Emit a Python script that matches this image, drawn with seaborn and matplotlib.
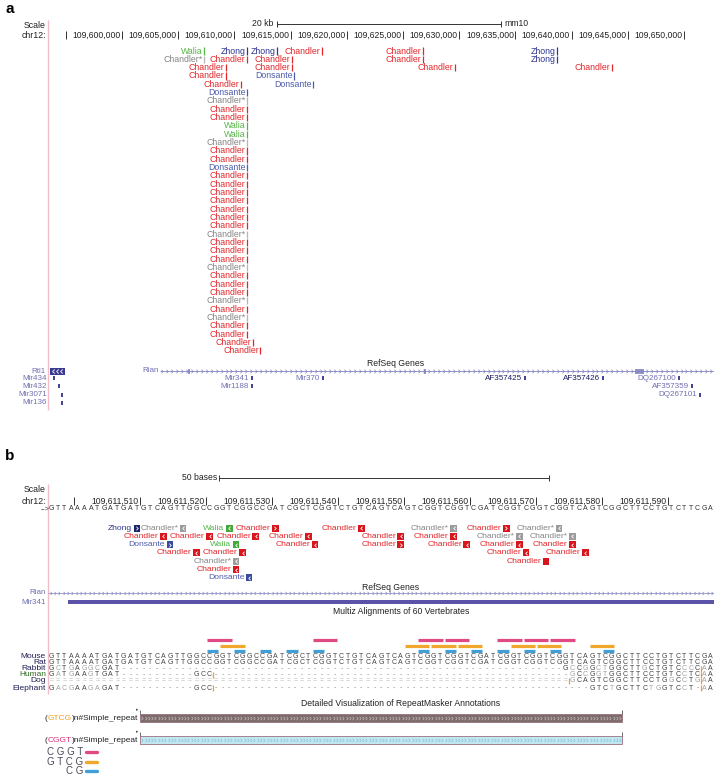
import numpy as np
import pandas as pd
import matplotlib
matplotlib.use("Agg")
import matplotlib.pyplot as plt
import seaborn as sns
from matplotlib.path import Path
from matplotlib.patches import Rectangle
from matplotlib.transforms import offset_copy

sns.set_theme(style="white")
plt.rcParams['font.family'] = ['Liberation Sans', 'DejaVu Sans']

# ------------------------------------------------------------------ data: panel a
A_LEFT, A_RIGHT = 109_593_416, 109_652_669
a_tick_pos = [109595000, 109600000, 109605000, 109610000, 109615000, 109620000,
              109625000, 109630000, 109635000, 109640000, 109645000, 109650000]
a_tick_lab = ["", "109,600,000", "109,605,000", "109,610,000", "109,615,000", "109,620,000",
              "109,625,000", "109,630,000", "109,635,000", "109,640,000", "109,645,000", "109,650,000"]
a_scale = (109613750, 109633750)  # 20 kb

a_feat_name = (["Walia", "Zhong", "Zhong", "Chandler", "Chandler", "Zhong"] +
               ["Chandler*", "Chandler", "Chandler", "Chandler", "Zhong"] +
               ["Chandler", "Chandler", "Chandler", "Chandler"] +
               ["Chandler", "Donsante"] +
               ["Chandler", "Donsante"] +
               ["Donsante", "Chandler*", "Chandler", "Chandler", "Walia", "Walia", "Chandler*",
                "Chandler", "Chandler", "Donsante"] +
               ["Chandler"] * 7 + ["Chandler*"] + ["Chandler"] * 3 + ["Chandler*"] +
               ["Chandler"] * 3 + ["Chandler*", "Chandler", "Chandler*", "Chandler", "Chandler",
                                   "Chandler", "Chandler"])
a_feat_pos = ([109607300, 109611100, 109613800, 109617800, 109626800, 109638700] +
              [109607300, 109611100, 109615100, 109626800, 109638700] +
              [109609250, 109615100, 109629600, 109643600] +
              [109609250, 109615300] +
              [109610600, 109617000] +
              [109611100] * 30 + [109611650, 109612300])
a_feat_row = ([0] * 6 + [1] * 5 + [2] * 4 + [3] * 2 + [4] * 2 + list(range(5, 37)))

a_gene_name = ["Mir434", "Mir432", "Mir3071", "Mir136", "Mir341", "Mir1188", "Mir370",
               "AF357425", "AF357426", "DQ267100", "AF357359", "DQ267101"]
a_gene_pos = [109593950, 109594400, 109594700, 109594700, 109611530, 109611530, 109617880,
              109635850, 109642790, 109649550, 109650710, 109651420]
a_gene_row = [0, 1, 2, 3, 0, 1, 0, 0, 0, 0, 1, 2]
rtl1 = (109593550, 109594900)
rian_a = (109603380, 109660000)
rian_exons_a = [(109605900, 109606050), (109626900, 109627050), (109645640, 109646440)]

# ------------------------------------------------------------------ data: panel b
B_LEFT, B_RIGHT = 109611495.5, 109611596.5
b_tick_pos = [109611500, 109611510, 109611520, 109611530, 109611540, 109611550,
              109611560, 109611570, 109611580, 109611590]
b_tick_lab = ["", "109,611,510", "109,611,520", "109,611,530", "109,611,540", "109,611,550",
              "109,611,560", "109,611,570", "109,611,580", "109,611,590"]
b_scale = (109611521.5, 109611571.5)  # 50 bases
seq_start = 109611496

b_feat_name = ["Zhong", "Chandler*", "Walia", "Chandler", "Chandler", "Chandler*", "Chandler", "Chandler*",
               "Chandler", "Chandler", "Chandler", "Chandler", "Chandler", "Chandler", "Chandler*", "Chandler*",
               "Donsante", "Walia", "Chandler", "Chandler", "Chandler", "Chandler", "Chandler",
               "Chandler", "Chandler", "Chandler", "Chandler",
               "Chandler*", "Chandler",
               "Chandler",
               "Donsante"]
b_feat_pos = [109611509, 109611516, 109611523, 109611530, 109611543, 109611557, 109611565, 109611573,
              109611513, 109611520, 109611527, 109611535, 109611549, 109611557, 109611567, 109611575,
              109611514, 109611524, 109611536, 109611549, 109611559, 109611567, 109611575,
              109611518, 109611525, 109611568, 109611577,
              109611524, 109611571,
              109611524,
              109611526]
b_feat_row = [0] * 8 + [1] * 8 + [2] * 7 + [3] * 4 + [4] * 2 + [5] + [6]
b_feat_strand = [">", "<", "<", ">", "<", "<", ">", "<",
                 "<", "<", "<", "<", "<", "<", "<", "<",
                 ">", "<", "<", ">", "<", "<", "<",
                 "<", "<", "<", "<",
                 "<", "",
                 "<",
                 "<"]
mir341_b = (109611499, 109611597)

species = ["Mouse", "Rat", "Rabbit", "Human", "Dog", "Elephant"]
alignment = [
    "GTTAAAATGATGATGTCAGTTGGCCGGTCGGCCGATCGCTCGGTCTGTCAGTCAGTCGGTCGGTCGATCGGTCGGTCGGTCAGTCGGCTTCCTGTCTTCGA",
    "GTTAAAATGATGATGTCAGTTGGCCGGTCGGCCGATCGCTCGGTCTGTCAGTCAGTCGGTCGGTCGATCGGTCGGTCGGTCAGTCGGCTTCCTGTCTTCGA",
    "GCTGAGGCGAT" + "-" * 67 + "GCCGGCTGGCTTGCTGTCCCCAA",
    "GATGAAGTGAT" + "-" * 11 + "GCC" + "-" * 54 + "GCCGGTGGCTTCCTGTCCTCAA",
    "=" * 79 + "GCAGTCGGCTTCCTGGCCTGAA",
    "GACGAAGAGAT" + "-" * 11 + "GCC" + "-" * 57 + "GTCTGCTTCTGGTCCT-AA",
]
insert_species = ["Rabbit", "Human", "Human", "Dog", "Dog", "Elephant", "Elephant"]
insert_pos = [109611594.5, 109611520.5, 109611594.5, 109611574.5, 109611594.5, 109611520.5, 109611594.5]

cggt_starts = [109611520, 109611536, 109611552, 109611556, 109611564, 109611568, 109611572]
gtcg_starts = [109611522, 109611550, 109611554, 109611558, 109611566, 109611570, 109611578]
cg_starts = [109611520, 109611524, 109611528, 109611532, 109611536, 109611552, 109611556,
             109611560, 109611564, 109611568, 109611572, 109611580]
repeat_span = (109611510, 109611582)
legend_motifs = ["C G G T", "G T C G", "C G"]

# ------------------------------------------------------------------ styles
W, H = 714, 775
fig = plt.figure(figsize=(W / 100, H / 100), dpi=100)
renderer = fig.canvas.get_renderer()

txt_col = {"Chandler": "#e3262a", "Chandler*": "#858585", "Walia": "#56b447",
           "Zhong": "#2e368f", "Donsante": "#4d5cab"}
bar_col = {"Chandler": "#e3262a", "Chandler*": "#b5b5b5", "Walia": "#56b447",
           "Zhong": "#2e368f", "Donsante": "#4d5cab"}
box_col = {"Chandler": "#d8161c", "Chandler*": "#9c9c9c", "Walia": "#45a83a",
           "Zhong": "#1c2468", "Donsante": "#3a4c9e"}
gene_lab_col = "#6f6fb2"
gene_col = "#3f3f95"
PINK = "#f4bcc6"
TXT = "#222222"

chev_r = Path([(-0.6, 1.0), (0.4, 0.0), (-0.6, -1.0)], [Path.MOVETO, Path.LINETO, Path.LINETO])
chev_l = Path([(0.6, 1.0), (-0.4, 0.0), (0.6, -1.0)], [Path.MOVETO, Path.LINETO, Path.LINETO])


def ftext(x, y, s, **kw):
    kw.setdefault("fontsize", 6)
    kw.setdefault("color", TXT)
    kw.setdefault("va", "center")
    return fig.text(x / W, 1 - y / H, s, **kw)


def seg_text_right(x, y, segments, fs):
    for s, c in reversed(segments):
        t = ftext(x, y, s, ha="right", fontsize=fs, color=c)
        x -= t.get_window_extent(renderer).width


def make_ax(xl, xr):
    ax = fig.add_axes([48 / W, 0, 666 / W, 1])
    ax.set_xlim(xl, xr)
    ax.set_ylim(H, 0)
    ax.axis("off")
    ax.patch.set_alpha(0)
    return ax


# ================================================================== panel a
ax_a = make_ax(A_LEFT, A_RIGHT)
ftext(5, 9, "a", fontsize=11, fontweight="bold", color="black")
ftext(46, 25, "Scale", ha="right", fontsize=6.3)
ftext(46, 35, "chr12:", ha="right", fontsize=6.3)
ax_a.vlines(A_LEFT, 20, 410, color=PINK, lw=1.0, clip_on=False)

# scale bar
ax_a.hlines(24, *a_scale, color="#333333", lw=0.7)
ax_a.vlines(a_scale, 21, 27, color="#333333", lw=0.7)
ax_a.annotate("20 kb", (a_scale[0], 24), xytext=(-3, 0), textcoords="offset pixels",
              ha="right", va="center", fontsize=6.2, color=TXT)
ax_a.annotate("mm10", (a_scale[1], 24), xytext=(3, 0), textcoords="offset pixels",
              ha="left", va="center", fontsize=6.2, color=TXT)

# ticks
ax_a.vlines(a_tick_pos, 31, 39, color="#333333", lw=0.7)
for p, lab in zip(a_tick_pos, a_tick_lab):
    ax_a.annotate(lab, (p, 35), xytext=(-1.5, 0), textcoords="offset pixels",
                  ha="right", va="center", fontsize=6.2, color=TXT)

# stacked features
df_a = pd.DataFrame({"name": a_feat_name, "pos": a_feat_pos, "row": a_feat_row})
df_a["y"] = 51.0 + df_a["row"] * 8.33
sns.scatterplot(data=df_a, x="pos", y="y", hue="name", palette=bar_col, marker="|",
                s=26, linewidth=0.9, legend=False, ax=ax_a)
tr_a = offset_copy(ax_a.transData, fig=fig, x=-1.5, y=0, units="dots")
for _, r in df_a.iterrows():
    ax_a.text(r.pos, r.y, r["name"], transform=tr_a, ha="right", va="center",
              fontsize=6.3, color=txt_col[r["name"]])

# RefSeq genes track
ax_a.text((A_LEFT + A_RIGHT) / 2 + 1300, 363, "RefSeq Genes", ha="center", va="center",
          fontsize=6.2, color=TXT)
# Rtl1
ftext(46, 371, "Rtl1", ha="right", fontsize=5.8, color=gene_lab_col)
ax_a.add_patch(Rectangle((rtl1[0], 367.5), rtl1[1] - rtl1[0], 7, color="#3a3a92", lw=0))
ax_a.plot(np.linspace(rtl1[0], rtl1[1], 5)[1:-1], [371] * 3, ls="none", marker=chev_l,
          ms=3, mew=0.6, mec="white", mfc="none")
# Rian
ax_a.hlines(371, rian_a[0], rian_a[1], color="#8383c2", lw=0.6)
chx = np.arange(rian_a[0] + 200, A_RIGHT, 440)
ax_a.plot(chx, [371] * len(chx), ls="none", marker=chev_r, ms=2.6, mew=0.5, mec="#8383c2", mfc="none")
for s, e in rian_exons_a:
    ax_a.add_patch(Rectangle((s, 368.5), e - s, 5, color="#9595cc", lw=0))
ax_a.annotate("Rian", (rian_a[0], 371), xytext=(-1, 0), textcoords="offset pixels",
              ha="right", va="center", fontsize=5.8, color=gene_lab_col)
# small genes
gene_y = [378 + r * 8.3 for r in a_gene_row]
ax_a.vlines(a_gene_pos, [y - 2 for y in gene_y], [y + 2 for y in gene_y], color=gene_col, lw=1.4)
for name, p, y in zip(a_gene_name, a_gene_pos, gene_y):
    col = "#1a1a5e" if name in ("AF357425", "AF357426") else gene_lab_col
    xpx = 48 + (p - A_LEFT) / (A_RIGHT - A_LEFT) * 666
    if xpx < 80:
        ftext(47, y, name, ha="right", fontsize=5.8, color=col)
    else:
        ax_a.annotate(name, (p, y), xytext=(-3, 0), textcoords="offset pixels",
                      ha="right", va="center", fontsize=5.8, color=col)

# ================================================================== panel b
ax_b = make_ax(B_LEFT, B_RIGHT)
ftext(5, 456, "b", fontsize=11, fontweight="bold", color="black")
ftext(46, 489, "Scale", ha="right", fontsize=6.3)
ftext(46, 501, "chr12:", ha="right", fontsize=6.3)
ax_b.vlines(B_LEFT, 484, 694, color=PINK, lw=1.0, clip_on=False)

ax_b.hlines(478, *b_scale, color="#333333", lw=0.7)
ax_b.vlines(b_scale, 475, 481, color="#333333", lw=0.7)
ax_b.annotate("50 bases", (b_scale[0], 478), xytext=(-2, 0), textcoords="offset pixels",
              ha="right", va="center", fontsize=6.2, color=TXT)

ax_b.vlines([p - 0.5 for p in b_tick_pos], 497, 505, color="#333333", lw=0.7)
for p, lab in zip(b_tick_pos, b_tick_lab):
    ax_b.annotate(lab, (p - 0.5, 501), xytext=(-1.5, 0), textcoords="offset pixels",
                  ha="right", va="center", fontsize=6.2, color=TXT)

# reference sequence
ftext(50, 509, "-->", ha="right", fontsize=5, color="#333333")
for i, base in enumerate(alignment[0]):
    ax_b.text(seq_start + i, 509, base, ha="center", va="center", fontsize=5, color="#333333")

# stacked features with boxes
tr_b = offset_copy(ax_b.transData, fig=fig, x=-1.5, y=0, units="dots")
for name, p, r, st in zip(b_feat_name, b_feat_pos, b_feat_row, b_feat_strand):
    y = 528.0 + r * 8.3
    ax_b.add_patch(Rectangle((p - 0.5, y - 3.5), 1.0, 7, color=box_col[name], lw=0))
    if st:
        ax_b.plot([p], [y], ls="none", marker=chev_r if st == ">" else chev_l, ms=2.6,
                  mew=0.6, mec="white", mfc="none")
    ax_b.text(p - 0.5, y, name, transform=tr_b, ha="right", va="center", fontsize=6.1,
              color=txt_col[name])

ax_b.text((B_LEFT + B_RIGHT) / 2 + 1.5, 587, "RefSeq Genes", ha="center", va="center",
          fontsize=6.2, color=TXT)
ftext(46, 593, "Rian", ha="right", fontsize=5.8, color=gene_lab_col)
ax_b.hlines(593, B_LEFT, B_RIGHT, color="#8383c2", lw=0.5)
cx = np.arange(B_LEFT + 0.4, B_RIGHT, 0.66)
ax_b.plot(cx, [593] * len(cx), ls="none", marker=chev_r, ms=2.3, mew=0.45, mec="#8383c2", mfc="none")
ftext(46, 602, "Mir341", ha="right", fontsize=5.8, color=gene_lab_col)
ax_b.add_patch(Rectangle((mir341_b[0] - 0.5, 600), mir341_b[1] - mir341_b[0], 4,
                         color="#5a53a7", lw=0))
ax_b.text((B_LEFT + B_RIGHT) / 2 + 3, 611, "Multiz Alignments of 60 Vertebrates",
          ha="center", va="center", fontsize=6.2, color=TXT)

# motif bars
for starts, n, y, c in [(cggt_starts, 4, 640, "#e04a84"), (gtcg_starts, 4, 646, "#f1a72c"),
                        (cg_starts, 2, 651, "#3f9fd6")]:
    ax_b.hlines([y] * len(starts), [s - 0.35 for s in starts], [s + n - 0.65 for s in starts],
                color=c, lw=2.3)

# alignment rows
row_y = [657, 663, 669, 675, 681, 688]
ref = alignment[0]
for sp, seq, y in zip(species, alignment, row_y):
    ftext(46, y, sp, ha="right", fontsize=6,
          color="#2f6b22" if sp == "Human" else "#1e1e55")
    for i, base in enumerate(seq):
        if base == "=":
            col = "#b8b8b8"
        elif base == "-":
            col = "#8a8a8a"
        elif sp in ("Mouse", "Rat") or base == ref[i]:
            col = "#444444"
        else:
            col = "#a0a0a0"
        ax_b.text(seq_start + i, y, base, ha="center", va="center", fontsize=5, color=col)
for sp, p in zip(insert_species, insert_pos):
    y = row_y[species.index(sp)]
    ax_b.vlines(p, y - 3, y + 3, color="#f0a030", lw=0.9)

# RepeatMasker track
ax_b.text((B_LEFT + B_RIGHT) / 2 + 3, 703, "Detailed Visualization of RepeatMasker Annotations",
          ha="center", va="center", fontsize=6.2, color=TXT)
for y, fill, chev, segs in [(718, "#7b6a6a", "#cdbcbc", [("(", TXT), ("GTCG", "#f0a020"), (")n#Simple_repeat", TXT)]),
                            (740, "#c3e7f1", "#83c2d4", [("(", TXT), ("CGGT", "#d8307c"), (")n#Simple_repeat", TXT)])]:
    s, e = repeat_span[0] - 0.5, repeat_span[1] + 0.5
    ax_b.add_patch(Rectangle((s, y - 4), e - s, 8, facecolor=fill, edgecolor="#9a7080", lw=0.6))
    px = np.arange(s + 0.3, e - 0.1, 0.5)
    ax_b.plot(px, [y] * len(px), ls="none", marker=chev_r, ms=2.4, mew=0.5, mec=chev, mfc="none")
    ax_b.vlines([s, e], y - 8, y - 4, color="#555555", lw=0.6)
    seg_text_right(138, y, segs, 6)
    ftext(137, y - 8, "\u25B8", ha="center", fontsize=3.5, color="#555555")

# legend
for txt, y, c in zip(legend_motifs, [752, 762, 771], ["#e04a84", "#f1a72c", "#3f9fd6"]):
    ftext(83, y, txt, ha="right", fontsize=7, color="#4a4a5a")
    fig.add_artist(plt.Line2D([86 / W, 97 / W], [1 - y / H, 1 - y / H], color=c, lw=2.4))

fig.savefig("out.png", dpi=100)
